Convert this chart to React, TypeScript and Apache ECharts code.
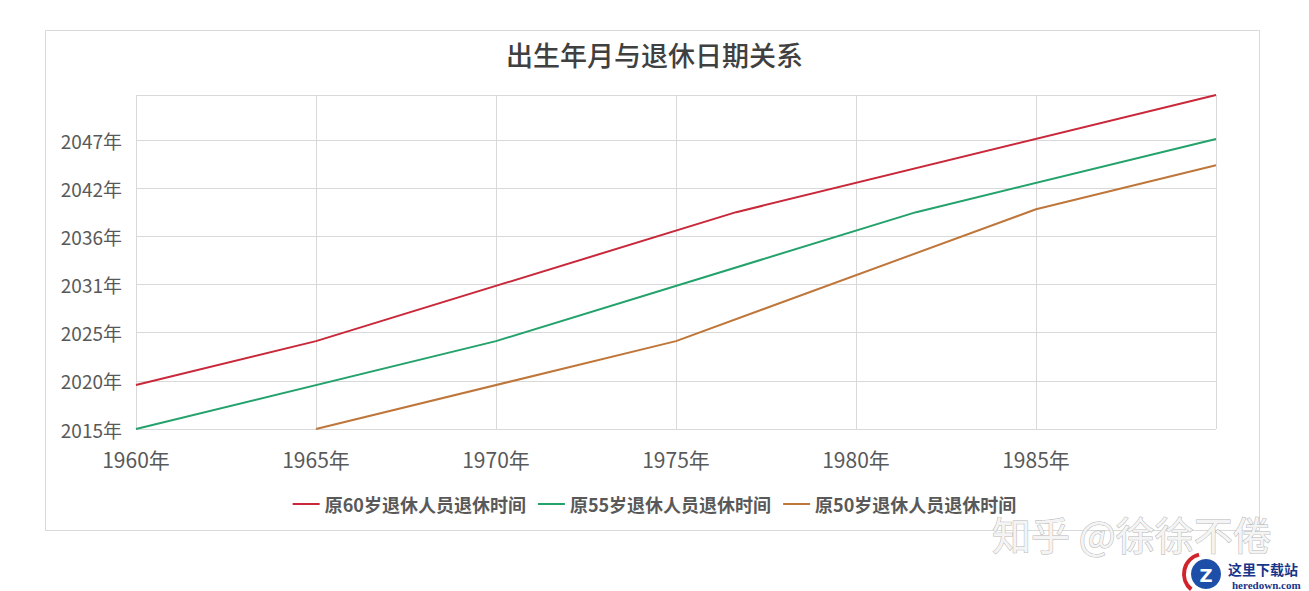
import React, { useEffect, useRef } from "react";
import * as echarts from "echarts";

// Birth year -> retirement year (decimal years), key points
const series60: [number, number][] = [
  [1960, 2020],
  [1965, 2025],
  [1976.67, 2039.67],
  [1990, 2053],
];
const series55: [number, number][] = [
  [1960, 2015],
  [1970, 2025],
  [1981.67, 2039.67],
  [1990, 2048],
];
const series50: [number, number][] = [
  [1965, 2015],
  [1975, 2025],
  [1985, 2040],
  [1990, 2045],
];
const seriesNames = ["原60岁退休人员退休时间", "原55岁退休人员退休时间", "原50岁退休人员退休时间"];
const seriesColors = ["#C8283A", "#23A26B", "#BF763A"];

const xTickLabels = ["1960年", "1965年", "1970年", "1975年", "1980年", "1985年", ""];
const yTickLabels = ["2015年", "2020年", "2025年", "2031年", "2036年", "2042年", "2047年", ""];

const Y_BASE_YEAR = 2015; // y axis counts days from 2015-01-01
const Y_STEP_DAYS = 2000;
const Y_MAX_YEAR = 2053;
const toDays = (year: number) => (year - Y_BASE_YEAR) * 365.25;

export default function App() {
  const ref = useRef<HTMLDivElement>(null);
  useEffect(() => {
    if (!ref.current) return;
    const chart = echarts.init(ref.current, undefined, { renderer: "svg" });
    const all = [series60, series55, series50];
    const font = "'Noto Sans CJK SC', 'Noto Sans', sans-serif";
    chart.setOption({
      animation: false,
      backgroundColor: "#ffffff",
      title: {
        text: "出生年月与退休日期关系",
        left: "center",
        top: 36,
        textStyle: { fontFamily: font, fontSize: 27, fontWeight: 500, color: "#404040" },
      },
      legend: {
        top: 490,
        left: "center",
        itemWidth: 27,
        itemHeight: 2,
        itemGap: 12,
        icon: "rect",
        textStyle: { fontFamily: font, fontSize: 18, fontWeight: "bold", color: "#595959" },
        data: seriesNames,
      },
      grid: { left: 136, right: 93, top: 95, bottom: 162, containLabel: false },
      xAxis: {
        type: "value",
        min: 1960,
        max: 1990,
        interval: 5,
        axisLine: { show: false },
        axisTick: { show: false },
        splitLine: { show: true, lineStyle: { color: "#D9D9D9", width: 1 } },
        axisLabel: {
          margin: 19,
          fontFamily: font,
          fontSize: 21,
          color: "#595959",
          formatter: (v: number) => xTickLabels[Math.round((v - 1960) / 5)] ?? "",
        },
      },
      yAxis: {
        type: "value",
        min: 0,
        max: toDays(Y_MAX_YEAR),
        interval: Y_STEP_DAYS,
        axisLine: { show: false },
        axisTick: { show: false },
        splitLine: { show: true, lineStyle: { color: "#D9D9D9", width: 1 } },
        axisLabel: {
          margin: 14,
          fontFamily: font,
          fontSize: 19,
          color: "#595959",
          showMaxLabel: false,
          formatter: (v: number) => yTickLabels[Math.round(v / Y_STEP_DAYS)] ?? "",
        },
      },
      series: all.map((s, i) => ({
        name: seriesNames[i],
        type: "line",
        symbol: "none",
        data: s.map(([b, r]) => [b, toDays(r)]),
        lineStyle: { color: seriesColors[i], width: 2 },
        itemStyle: { color: seriesColors[i] },
      })),
      graphic: [
        {
          type: "rect",
          shape: { x: 45.5, y: 30.5, width: 1214, height: 500 },
          style: { fill: "none", stroke: "#D9D9D9", lineWidth: 1 },
          silent: true,
          z: -1,
        },
        {
          type: "text",
          x: 992,
          y: 533,
          style: {
            text: "知乎 @徐徐不倦",
            fontFamily: font,
            fontSize: 39,
            lineHeight: 36,
            verticalAlign: "middle",
            fill: "#f4f4f4",
            stroke: "#b5b5b5",
            lineWidth: 1,
          },
          z: 10,
        },
        {
          type: "arc",
          shape: { cx: 1204, cy: 574, r: 20, startAngle: Math.PI * 0.72, endAngle: Math.PI * 1.42 },
          style: { stroke: "#D0232B", lineWidth: 4, fill: "none" },
          z: 10,
        },
        {
          type: "circle",
          shape: { cx: 1206, cy: 574, r: 15 },
          style: { fill: "#1E4FA8" },
          z: 10,
        },
        {
          type: "text",
          x: 1206,
          y: 575,
          style: {
            text: "Z",
            fontFamily: "'DejaVu Sans', sans-serif",
            fontSize: 18,
            lineHeight: 18,
            fontWeight: "bold",
            fill: "#ffffff",
            align: "center",
            verticalAlign: "middle",
          },
          z: 11,
        },
        {
          type: "text",
          x: 1228,
          y: 569,
          style: {
            text: "这里下载站",
            fontFamily: "'Noto Sans CJK SC', sans-serif",
            fontSize: 14,
            lineHeight: 14,
            verticalAlign: "middle",
            fontWeight: "bold",
            fill: "#17358A",
          },
          z: 10,
        },
        {
          type: "text",
          x: 1232,
          y: 585,
          style: {
            text: "heredown.com",
            fontFamily: "'Liberation Serif', serif",
            fontSize: 11,
            lineHeight: 11,
            verticalAlign: "middle",
            fontWeight: "bold",
            fill: "#17358A",
          },
          z: 10,
        },
      ],
    });
    return () => chart.dispose();
  }, []);
  return (
    <div
      ref={ref}
      style={{ position: "fixed", left: 0, top: 0, width: 1309, height: 591 }}
    />
  );
}
